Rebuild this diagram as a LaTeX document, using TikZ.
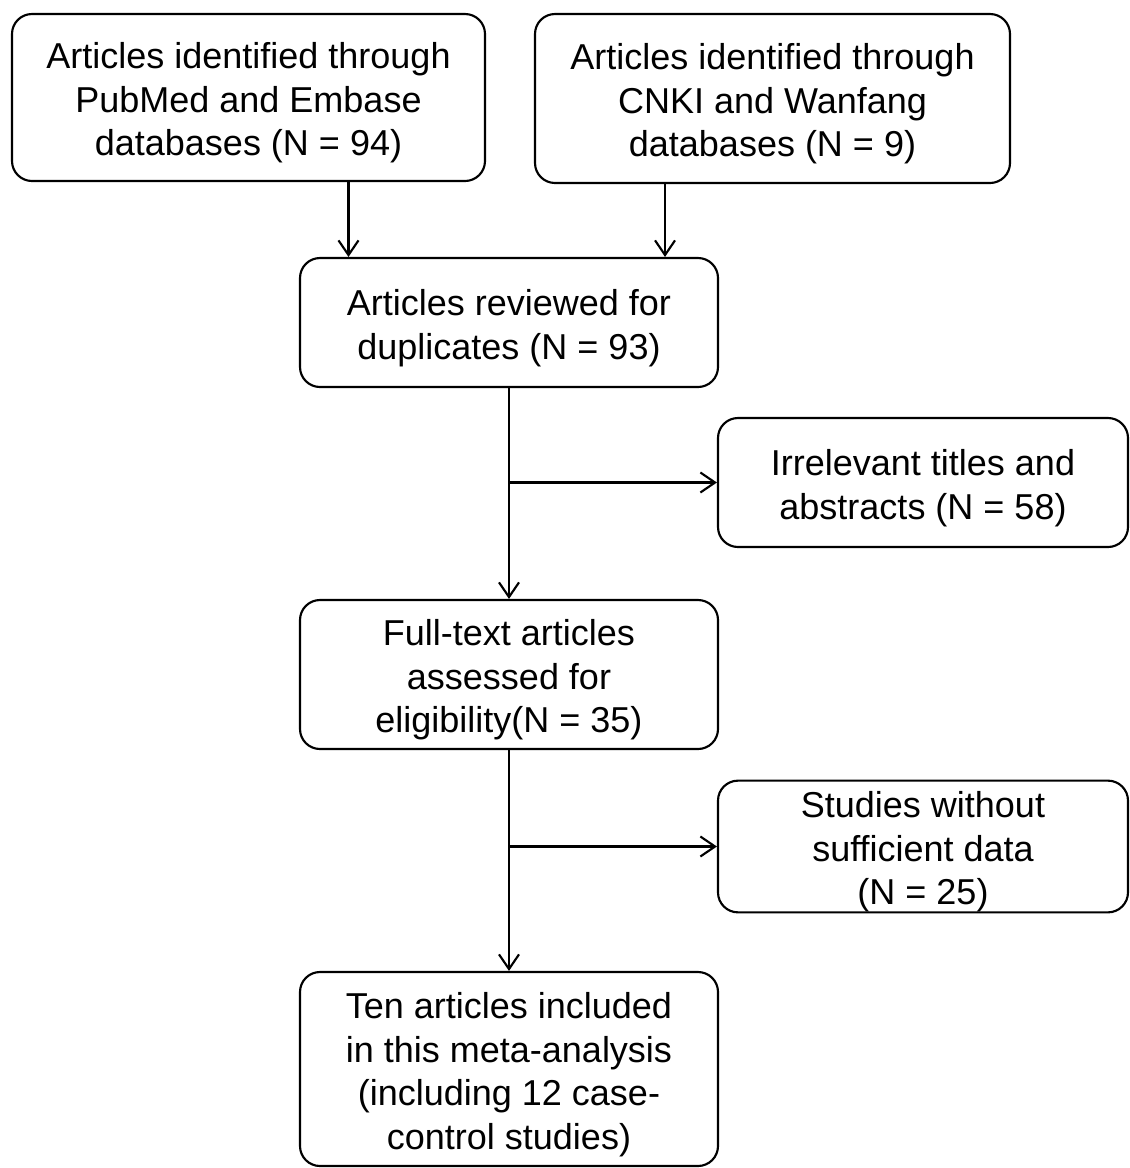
\documentclass[tikz,border=0pt]{standalone}
\usepackage{fontspec}
\setmainfont{Liberation Sans}
\usetikzlibrary{arrows.meta,positioning,calc}
\newcommand{\topstrut}{\rule{0pt}{28pt}}

\begin{document}
\begin{tikzpicture}[
  x=0.75pt, y=-0.75pt,
  every node/.style={font=\fontsize{27}{32.6}\selectfont},
  box/.style={rectangle, rounded corners=15pt, draw=black, line width=1.6pt,
              align=center, inner sep=0pt},
  ar/.style={-{Straight Barb[length=11pt, width=15pt, line width=1.6pt]},
             line width=1.6pt, draw=black}
]
\useasboundingbox (0,0) rectangle (1129,1168);

\node[box, minimum width=354.75pt, minimum height=125.25pt] (pub) at (248.5,97.5)
  {\topstrut Articles identified through\\PubMed and Embase\\databases (N = 94)};

\node[box, minimum width=356.25pt, minimum height=126.75pt] (cnki) at (772.5,98.5)
  {\topstrut Articles identified through\\CNKI and Wanfang\\databases (N = 9)};

\node[box, minimum width=313.5pt, minimum height=96.75pt] (dup) at (509,322.5)
  {\topstrut Articles reviewed for\\duplicates (N = 93)};

\node[box, minimum width=307.5pt, minimum height=96.75pt] (irr) at (923,482.5)
  {\topstrut Irrelevant titles and\\abstracts (N = 58)};

\node[box, minimum width=313.5pt, minimum height=111.75pt] (full) at (509,674.5)
  {\topstrut Full-text articles\\assessed for\\eligibility(N = 35)};

\node[box, minimum width=307.5pt, minimum height=96.75pt] (insuf) at (923,846.5)
  {\topstrut Studies without\\sufficient data\\(N = 25)};

\node[box, minimum width=313.5pt, minimum height=145.5pt] (incl) at (509,1069)
  {\topstrut Ten articles included\\in this meta-analysis\\(including 12 case-\\control studies)};

\draw[ar] ([xshift=75pt]pub.south) -- ([xshift=75pt]pub.south |- dup.north);
\draw[ar] ([xshift=-80.6pt]cnki.south) -- ([xshift=-80.6pt]cnki.south |- dup.north);
\draw[ar] (dup) -- (full);
\draw[ar] (dup.south |- irr.west) -- (irr.west);
\draw[ar] (full) -- (incl);
\draw[ar] (full.south |- insuf.west) -- (insuf.west);
\end{tikzpicture}
\end{document}
